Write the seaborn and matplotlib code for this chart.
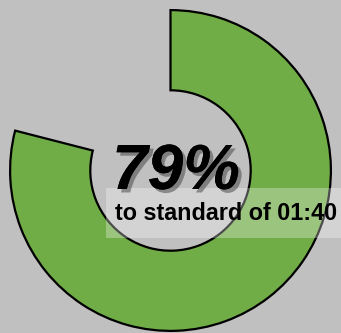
import matplotlib
matplotlib.use('Agg')
import matplotlib.pyplot as plt
import matplotlib.patheffects as pe
from matplotlib.patches import Rectangle
import seaborn as sns

# Data
score_pct = 79
segments = [score_pct, 100 - score_pct]
segment_colors = ['#70ad47', 'none']
main_label = f'{score_pct}%'
sub_label = 'to standard of 01:40'

sns.set_style('white')
plt.rcParams['font.family'] = ['Liberation Sans', 'DejaVu Sans']

bg = '#c0c0c0'
fig = plt.figure(figsize=(3.41, 3.33), dpi=100, facecolor=bg)
ax = fig.add_axes([8.5 / 341, 0.5 / 333, 324 / 341, 324 / 333])
ax.set_facecolor(bg)

# donut: start at 12 o'clock, go clockwise
wedges, _ = ax.pie(segments, colors=segment_colors, startangle=90, counterclock=False,
                   radius=1, wedgeprops=dict(width=0.5, edgecolor='black', linewidth=1.6))
wedges[1].set_edgecolor('none')
ax.set_xlim(-1.01, 1.01)
ax.set_ylim(-1.01, 1.01)
ax.set_aspect('equal')
ax.axis('off')

# translucent band behind the subtitle
fig.patches.append(Rectangle((106 / 341, 1 - 238 / 333), 240 / 341, 50 / 333,
                             transform=fig.transFigure, facecolor='white', alpha=0.3,
                             edgecolor='none', zorder=3))

fig.text(176 / 341, 1 - 172 / 333, main_label, ha='center', va='center',
         fontsize=46, fontweight='bold', fontstyle='italic', color='black', zorder=5,
         path_effects=[pe.withSimplePatchShadow(offset=(2.5, -2.5), shadow_rgbFace='#404040', alpha=0.5),
                       pe.Normal()])
fig.text(226 / 341, 1 - 214 / 333, sub_label, ha='center', va='center',
         fontsize=16.8, fontweight='bold', color='black', zorder=5)

fig.savefig('out.png', dpi=100, facecolor=bg)
